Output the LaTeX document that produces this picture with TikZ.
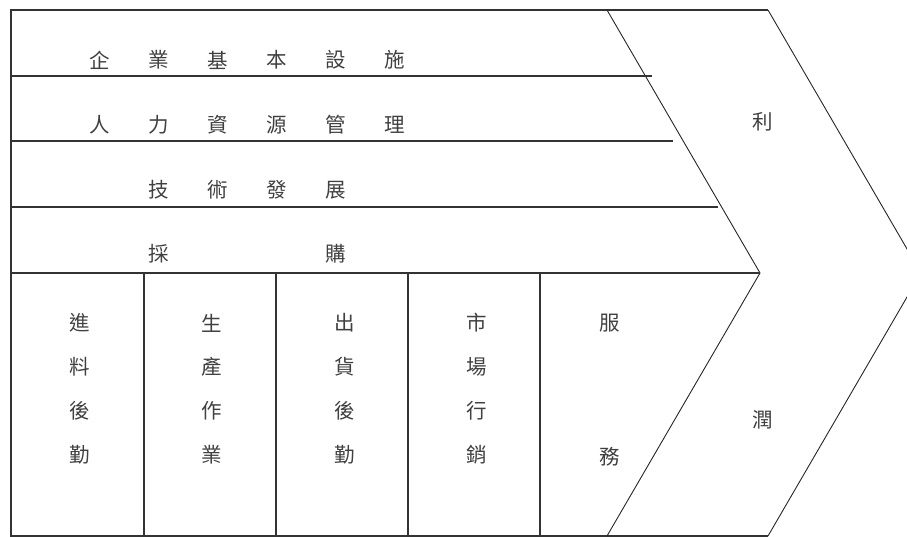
\documentclass[tikz,border=0pt]{standalone}
\usepackage{fontspec}
\newfontfamily\cjk{Noto Sans CJK TC}
\begin{document}
\begin{tikzpicture}[x=1pt,y=-1pt,
  frame/.style={draw=black!80,line width=1.2pt},
  slant/.style={draw=black!85,line width=0.9pt},
  lbl/.style={font=\cjk\fontsize{20.5}{20.5}\selectfont,text=black!75,inner sep=0pt}]
\useasboundingbox (0,0) rectangle (907,537);
% outer frame and chevron
\draw[frame] (607,10) -- (11,10) -- (11,536) -- (607,536);
\draw[frame] (607,10) -- (768,10);
\draw[frame] (607,536) -- (768,536);
\draw[slant] (768,10) -- (921,273) -- (768,536);
\draw[slant] (607,10) -- (760,273) -- (607,536);
% support activity lines
\draw[frame] (11,76) -- (652,76);
\draw[frame] (11,141) -- (673,141);
\draw[frame] (11,207) -- (718,207);
\draw[frame] (11,273) -- (760,273);
% primary activity dividers
\foreach \x in {144,276,408,540} \draw[frame] (\x,273) -- (\x,536);
% support labels
\foreach \c [count=\i] in {企,業,基,本,設,施}
  \node[lbl] (a\i) at ({100+(\i-1)*59},60) {\c};
\foreach \c [count=\i] in {人,力,資,源,管,理}
  \node[lbl] (b\i) at ({100+(\i-1)*59},125) {\c};
\foreach \c [count=\i] in {技,術,發,展}
  \node[lbl] (c\i) at ({159+(\i-1)*59},190) {\c};
\node[lbl] (d1) at (159,254) {採};
\node[lbl] (d2) at (336,254) {購};
% primary labels
\foreach \c [count=\i] in {進,料,後,勤}
  \node[lbl] (p\i) at (80,{323+(\i-1)*44}) {\c};
\foreach \c [count=\i] in {生,產,作,業}
  \node[lbl] (q\i) at (212,{323+(\i-1)*44}) {\c};
\foreach \c [count=\i] in {出,貨,後,勤}
  \node[lbl] (r\i) at (345,{323+(\i-1)*44}) {\c};
\foreach \c [count=\i] in {市,場,行,銷}
  \node[lbl] (s\i) at (477,{323+(\i-1)*44}) {\c};
\node[lbl] (t1) at (610,323) {服};
\node[lbl] (t2) at (610,457) {務};
% margin
\node[lbl] (m1) at (763,122) {利};
\node[lbl] (m2) at (763,420) {潤};
\end{tikzpicture}
\end{document}
